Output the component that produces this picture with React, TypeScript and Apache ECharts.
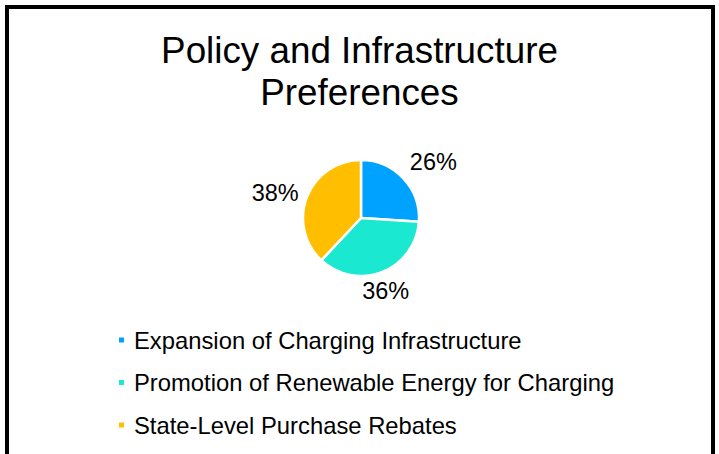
import React, { useEffect, useRef } from "react";
import * as echarts from "echarts";

const titleLines = ["Policy and Infrastructure", "Preferences"];
const categories = [
  "Expansion of Charging Infrastructure",
  "Promotion of Renewable Energy for Charging",
  "State-Level Purchase Rebates",
];
const shares = [26, 36, 38];
const colors = ["#00A2FF", "#1AE8D0", "#FFBF00"];

const CX = 361;
const CY = 218;
const R = 58;
const LABEL_GAP = 9;
const FONT = "'Liberation Sans', Arial, Helvetica, sans-serif";

const ramp = (v: number) => Math.sign(v) * Math.min(1, Math.max(0, (Math.abs(v) - 0.4) / 0.3));

export default function App() {
  const ref = useRef<HTMLDivElement>(null);
  useEffect(() => {
    if (!ref.current) return;
    const chart = echarts.init(ref.current, undefined, { renderer: "svg" });
    const total = shares.reduce((a, b) => a + b, 0);
    chart.setOption({
      animation: false,
      backgroundColor: "#ffffff",
      color: colors,
      title: {
        text: titleLines.join("\n"),
        left: "center",
        top: 24,
        padding: [5, 0, 5, 5],
        textStyle: {
          fontFamily: FONT,
          fontSize: 36.8,
          fontWeight: "normal",
          color: "#000",
          lineHeight: 42,
        },
      },
      legend: {
        orient: "vertical",
        left: 117,
        top: 327,
        padding: 0,
        itemWidth: 7,
        itemHeight: 7,
        itemGap: 16.5,
        icon: "rect",
        selectedMode: false,
        textStyle: {
          fontFamily: FONT,
          fontSize: 23.8,
          color: "#000",
          lineHeight: 26,
          padding: [0, 0, 0, 4],
        },
        data: categories,
      },
      graphic: [
        {
          type: "rect",
          shape: { x: 7, y: 7, width: 706, height: 480 },
          style: { fill: "none", stroke: "#000", lineWidth: 4 },
          silent: true,
          z: 100,
        },
      ],
      series: [
        {
          type: "pie",
          center: [CX, CY],
          radius: R,
          startAngle: 90,
          clockwise: true,
          avoidLabelOverlap: false,
          itemStyle: { borderColor: "#fff", borderWidth: 2.5 },
          label: {
            show: true,
            position: "outside",
            formatter: "{d}%",
            fontFamily: FONT,
            fontSize: 23.5,
            color: "#000",
          },
          labelLine: { show: false },
          emphasis: { disabled: true },
          labelLayout: (params: any) => {
            const i = params.dataIndex;
            let cum = 0;
            for (let j = 0; j < i; j++) cum += shares[j];
            const mid = ((cum + shares[i] / 2) / total) * Math.PI * 2;
            const dx = Math.sin(mid);
            const dy = -Math.cos(mid);
            const hw = params.labelRect.width / 2;
            const hh = 11;
            const d = R + LABEL_GAP;
            return {
              x: CX + dx * d + ramp(dx) * hw,
              y: CY + dy * d + ramp(dy) * hh,
              align: "center",
              verticalAlign: "middle",
            };
          },
          data: categories.map((name, i) => ({ name, value: shares[i] })),
        },
      ],
    });
    return () => chart.dispose();
  }, []);
  return (
    <div
      ref={ref}
      style={{ position: "fixed", left: 0, top: 0, width: 719, height: 454, background: "#fff" }}
    />
  );
}
